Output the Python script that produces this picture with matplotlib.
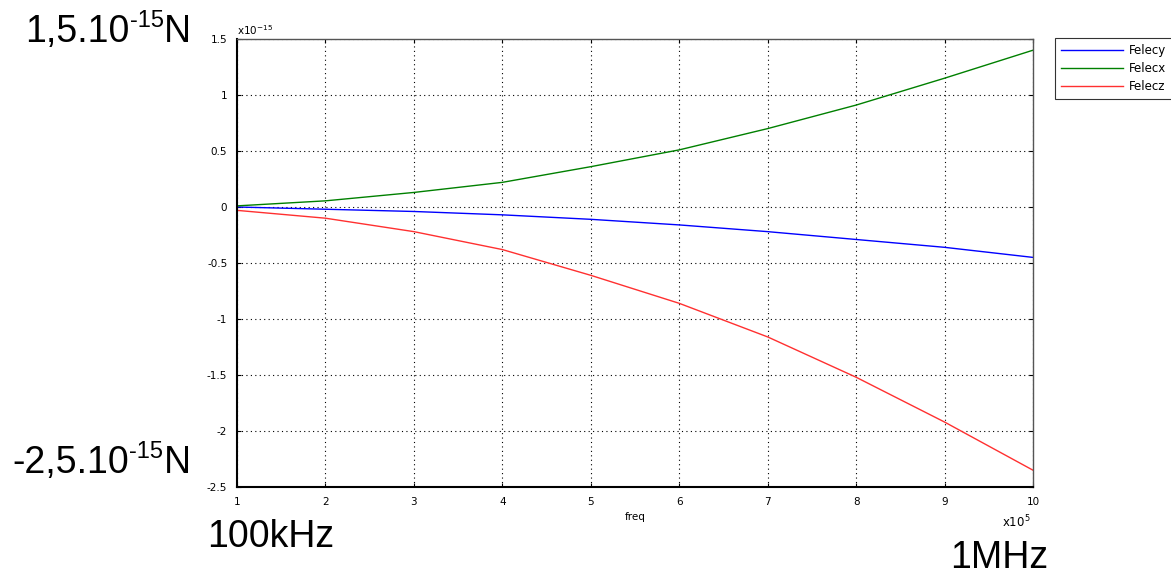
import matplotlib
matplotlib.use("Agg")
import matplotlib.pyplot as plt

freq = [1, 2, 3, 4, 5, 6, 7, 8, 9, 10]
felecy = [0.0, -0.02, -0.04, -0.07, -0.11, -0.16, -0.22, -0.29, -0.36, -0.45]
felecx = [0.01, 0.055, 0.13, 0.22, 0.36, 0.51, 0.70, 0.91, 1.15, 1.40]
felecz = [-0.03, -0.10, -0.22, -0.38, -0.61, -0.86, -1.16, -1.52, -1.92, -2.35]
yticks = [-2.5, -2, -1.5, -1, -0.5, 0, 0.5, 1, 1.5]
ytick_labels = ["-2.5", "-2", "-1.5", "-1", "-0.5", "0", "0.5", "1", "1.5"]
xticks = [1, 2, 3, 4, 5, 6, 7, 8, 9, 10]

W, H = 1171, 574
fig = plt.figure(figsize=(W / 100, H / 100), dpi=100)
ax = fig.add_axes([237 / W, 1 - 487 / H, (1033 - 237) / W, (487 - 39) / H])

ax.plot(freq, felecy, color="#0000ff", lw=1.0, label="Felecy")
ax.plot(freq, felecx, color="#008000", lw=1.0, label="Felecx")
ax.plot(freq, felecz, color="#ff3030", lw=1.0, label="Felecz")

ax.set_xlim(1, 10)
ax.set_ylim(-2.5, 1.5)
ax.set_xticks(xticks)
ax.set_xticklabels([str(v) for v in xticks])
ax.set_yticks(yticks)
ax.set_yticklabels(ytick_labels)
ax.grid(True, color="black", linestyle=(0, (1, 3)), lw=0.8)
ax.tick_params(direction="in", length=3, labelsize=7.5, top=True, right=True, pad=7)
for s in ["left", "bottom"]:
    ax.spines[s].set_linewidth(1.5)
    ax.spines[s].set_color("black")
for s in ["top", "right"]:
    ax.spines[s].set_linewidth(1.0)
    ax.spines[s].set_color("#555555")

ax.set_xlabel("freq", fontsize=7.5, labelpad=4)
ax.text(0.0, 1.004, "x10$^{-15}$", transform=ax.transAxes, fontsize=7.5, ha="left", va="bottom")
ax.text(0.997, -0.06, "x10$^{5}$", transform=ax.transAxes, fontsize=8.5, ha="right", va="top")

leg = ax.legend(loc="upper left", bbox_to_anchor=(1055 / W, 1 - 38 / H), bbox_transform=fig.transFigure,
                fontsize=8.5, frameon=True, fancybox=False, edgecolor="black", borderpad=0.55,
                handlelength=5.2, handletextpad=0.5, labelspacing=0.4, borderaxespad=0)
leg.get_frame().set_linewidth(0.8)

big = dict(family="Liberation Sans", fontsize=27, color="black")

def sci_label(x_px, base_px, main):
    t1 = fig.text(x_px / W, 1 - base_px / H, main, ha="left", va="baseline", **big)
    a2 = ax.annotate("-15", xy=(1, 1), xycoords=t1, xytext=(0.5, 3), textcoords="offset points",
                     ha="left", va="top", family="Liberation Sans", fontsize=17, annotation_clip=False)
    ax.annotate("N", xy=(1, 0), xycoords=(a2, t1), xytext=(0.0, 0), textcoords="offset points",
                ha="left", va="bottom", annotation_clip=False, **big)
    return t1

sci_label(25, 42, "1,5.10")
sci_label(12, 473, "-2,5.10")
fig.text(207 / W, 1 - 547 / H, "100kHz", ha="left", va="baseline", **big)
fig.text(950 / W, 1 - 568 / H, "1MHz", ha="left", va="baseline", **big)

fig.savefig("out.png", dpi=100)
